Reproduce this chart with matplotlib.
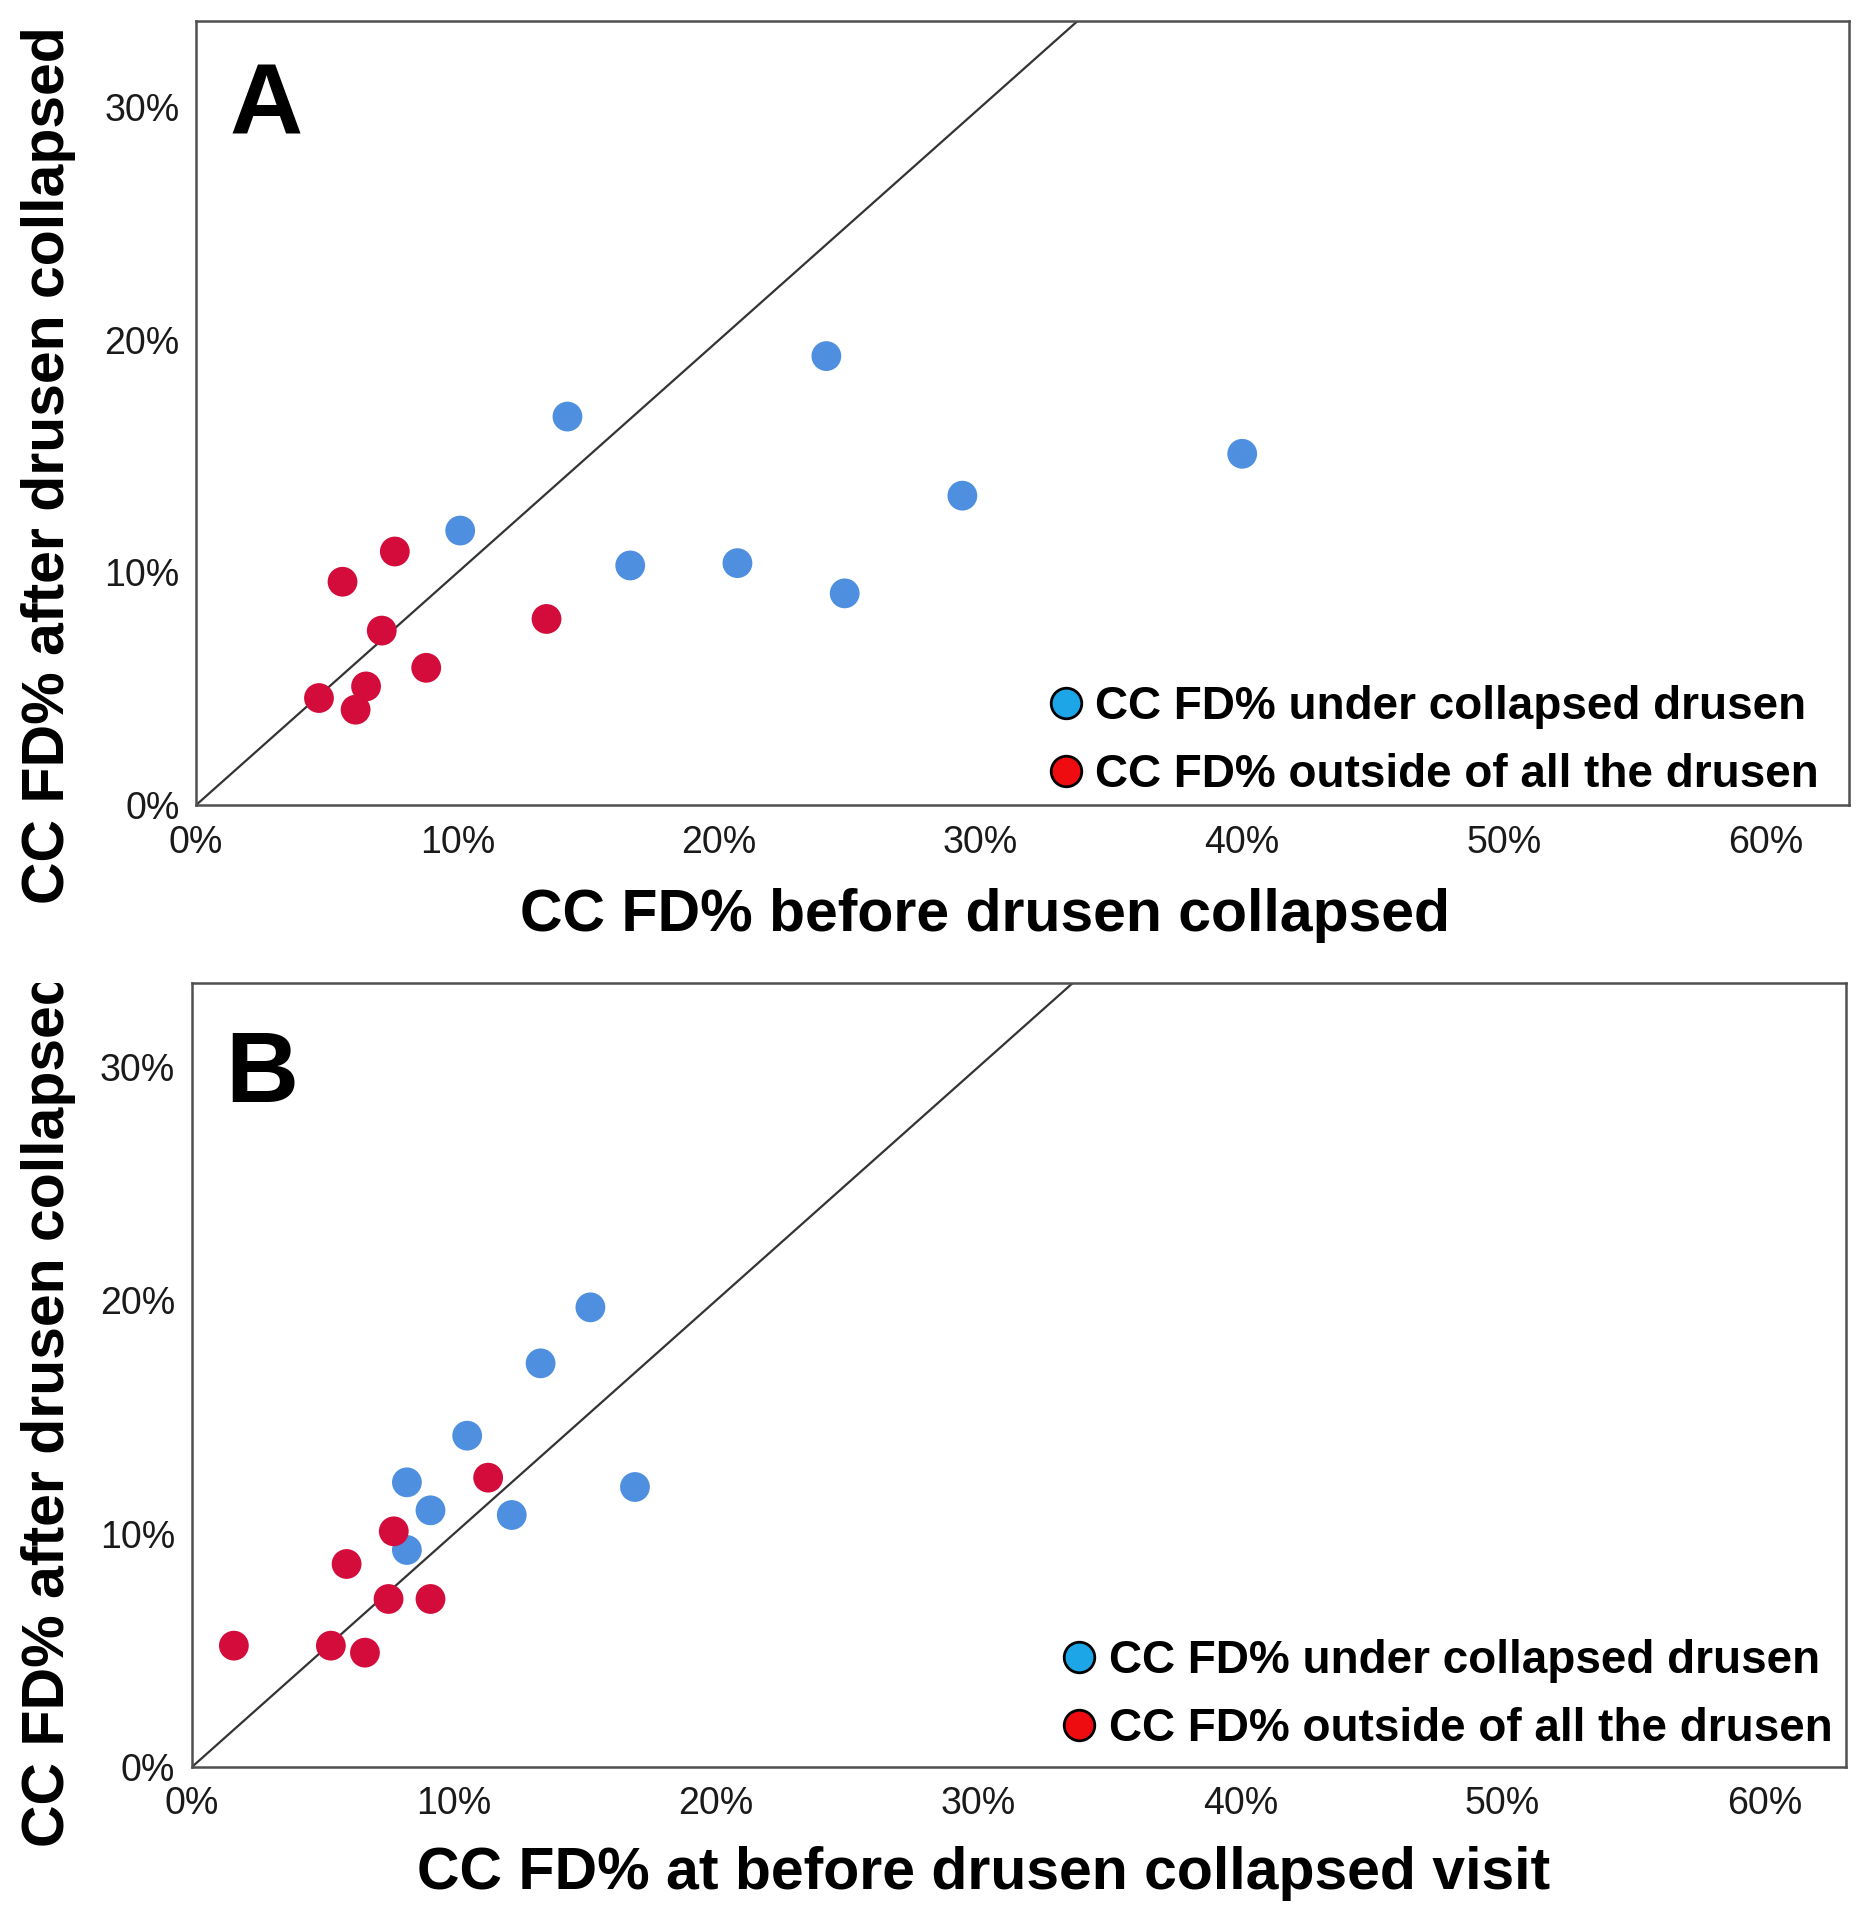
import matplotlib
matplotlib.use("Agg")
import matplotlib.pyplot as plt
from matplotlib.lines import Line2D
from matplotlib.ticker import FuncFormatter
from matplotlib.transforms import Bbox, TransformedBbox

plt.rcParams['font.family'] = ['Liberation Sans', 'DejaVu Sans']

# Panel A data (percent)
a_under_x = [14.2, 24.1, 40.0, 29.3, 10.1, 16.6, 20.7, 24.8]
a_under_y = [16.7, 19.3, 15.1, 13.3, 11.8, 10.3, 10.4, 9.1]
a_out_x = [5.6, 7.6, 7.1, 13.4, 8.8, 6.5, 4.7, 6.1]
a_out_y = [9.6, 10.9, 7.5, 8.0, 5.9, 5.1, 4.6, 4.1]

# Panel B data (percent)
b_under_x = [15.2, 13.3, 10.5, 8.2, 9.1, 12.2, 16.9, 8.2]
b_under_y = [19.7, 17.3, 14.2, 12.2, 11.0, 10.8, 12.0, 9.3]
b_out_x = [11.3, 7.7, 5.9, 7.5, 9.1, 1.6, 5.3, 6.6]
b_out_y = [12.4, 10.1, 8.7, 7.2, 7.2, 5.2, 5.2, 4.9]

ticks_x = [0, 10, 20, 30, 40, 50, 60]
ticks_y = [0, 10, 20, 30]
legend_labels = ["CC FD% under collapsed drusen", "CC FD% outside of all the drusen"]

BLUE = '#4E8FE0'
RED = '#D40C3C'
LEG_BLUE = '#1CA6E8'
LEG_RED = '#EE0C10'

fig = plt.figure(figsize=(18.69, 19.2), dpi=100)
fig.patch.set_facecolor('white')

axA = fig.add_axes([0.1049, 0.5807, 0.8844, 0.4083])
axB = fig.add_axes([0.1027, 0.0797, 0.8850, 0.4083])

pct = FuncFormatter(lambda v, p: f"{int(round(v))}%")

def style(ax, xmax, ymax, ux, uy, ox, oy, leg_anchor, letter, letter_y):
    ax.set_xlim(0, xmax)
    ax.set_ylim(0, ymax)
    ax.axline((0, 0), slope=1, color='#333333', lw=1.6, zorder=1)
    ax.scatter(ux, uy, s=460, color=BLUE, edgecolors='none', zorder=3)
    ax.scatter(ox, oy, s=460, color=RED, edgecolors='none', zorder=3)
    ax.set_xticks(ticks_x)
    ax.set_yticks(ticks_y)
    ax.xaxis.set_major_formatter(pct)
    ax.yaxis.set_major_formatter(pct)
    ax.tick_params(axis='both', length=0, labelsize=27, colors='#1a1a1a')
    ax.tick_params(axis='x', pad=14)
    ax.tick_params(axis='y', pad=12)
    for s in ax.spines.values():
        s.set_color('#505050')
        s.set_linewidth(1.8)
    ax.text(0.02, letter_y, letter, transform=ax.transAxes, fontsize=73,
            fontweight='bold', va='top', ha='left', color='black')
    handles = [Line2D([], [], marker='o', linestyle='none', markersize=22,
                      markerfacecolor=LEG_BLUE, markeredgecolor='black', markeredgewidth=2.0),
               Line2D([], [], marker='o', linestyle='none', markersize=22,
                      markerfacecolor=LEG_RED, markeredgecolor='black', markeredgewidth=2.0)]
    leg = ax.legend(handles, legend_labels, loc='lower right', bbox_to_anchor=leg_anchor,
                    frameon=False, handletextpad=0.2, labelspacing=0.52, borderpad=0,
                    borderaxespad=0, handlelength=0.9,
                    prop={'weight': 'bold', 'size': 33})
    return leg

style(axA, 63.2, 33.7, a_under_x, a_under_y, a_out_x, a_out_y, (0.982, 0.010), 'A', 0.948)
style(axB, 63.1, 33.6, b_under_x, b_under_y, b_out_x, b_out_y, (0.992, 0.020), 'B', 0.942)

fig.text(0.527, 0.523, "CC FD% before drusen collapsed", fontsize=42.5,
         fontweight='bold', ha='center', va='center')
fig.text(0.526, 0.024, "CC FD% at before drusen collapsed visit", fontsize=42.5,
         fontweight='bold', ha='center', va='center')
fig.text(0.026, 0.758, "CC FD% after drusen collapsed", fontsize=42.5,
         fontweight='bold', ha='center', va='center', rotation=90)
tB = fig.text(0.026, 0.038, "CC FD% after drusen collapsed", fontsize=42.5,
              fontweight='bold', ha='center', va='bottom', rotation=90)
tB.set_clip_box(TransformedBbox(Bbox([[0, 0], [1, 0.488]]), fig.transFigure))
tB.set_clip_on(True)

fig.savefig('out.png', dpi=100, facecolor='white')
